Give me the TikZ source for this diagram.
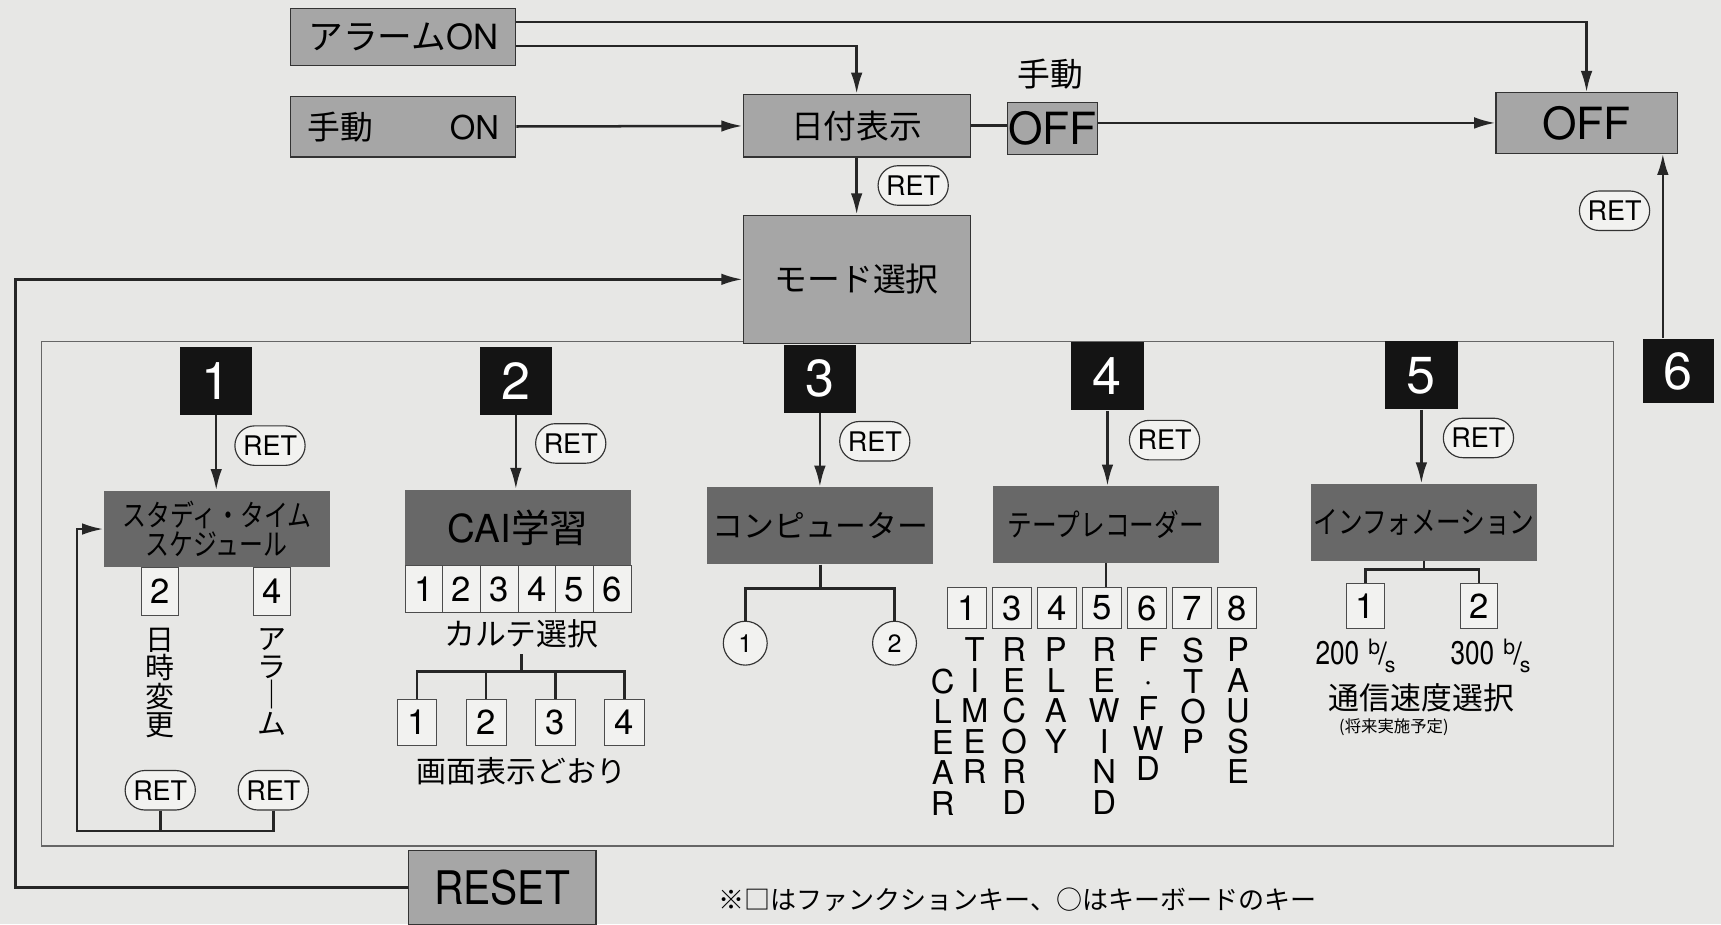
\documentclass[tikz,border=0pt]{standalone}
\usepackage{fontspec}
\setmainfont{TeX Gyre Heros}
\newfontfamily\jp{Noto Sans CJK JP}
\usetikzlibrary{arrows.meta,shapes.misc}
\definecolor{paper}{HTML}{E7E7E5}
\definecolor{lgray}{HTML}{A6A6A6}
\definecolor{dgray}{HTML}{686868}
\definecolor{keyfill}{HTML}{F2F2F0}
\newcommand{\cond}[1]{\scalebox{0.8}[1]{#1}}
\newcommand{\fs}[1]{\fontsize{#1}{#1}\selectfont}

\begin{document}
\begin{tikzpicture}[x=0.02cm,y=-0.02cm,
  box/.style={draw=black!80,line width=0.6pt,fill=lgray,inner sep=0pt},
  mbox/.style={fill=dgray,inner sep=0pt,minimum width=4.12cm,minimum height=1.4cm},
  numkey/.style={fill=black!92,text=white,inner sep=0pt,minimum width=1.32cm,minimum height=1.24cm,font=\fs{27}},
  fkey/.style={draw=black!70,line width=0.5pt,fill=keyfill,inner sep=0pt,minimum width=0.7cm,minimum height=0.84cm,font=\fs{18}},
  ret/.style={rounded rectangle,draw=black!80,line width=0.6pt,fill=keyfill,inner sep=0pt,minimum width=1.28cm,minimum height=0.72cm,font=\fs{14}},
  ckey/.style={circle,draw=black!80,line width=0.6pt,fill=keyfill,inner sep=0pt,minimum size=0.8cm,font=\fs{13}},
  vtext/.style={anchor=north,inner sep=0pt,align=center},
  line/.style={line width=1.3pt,black!85},
  arr/.style={line,-{Latex[length=11pt,width=6pt]}}
]
  \fill[paper] (0,0) rectangle (1568,842);
  \useasboundingbox (0,0) rectangle (1568,842);

  % frame of the mode keys
  \draw[black!60,line width=0.8pt] (38,311) rectangle (1470,771);

  % top row
  \node[box,minimum width=4.1cm,minimum height=1.04cm,font=\fs{18}] (alarmon) at (367.5,34) {{\jp アラーム}ON};
  \node[box,minimum width=4.1cm,minimum height=1.1cm,font=\fs{17}] (manualon) at (367.5,115.5) {{\jp 手動}\hspace{1.4cm}ON};
  \node[box,minimum width=4.14cm,minimum height=1.14cm,font=\jp\fs{17}] (datebox) at (780.5,114.5) {日付表示};
  \node[box,minimum width=1.64cm,minimum height=0.96cm,font=\fs{23}] (offsmall) at (959,117) {OFF};
  \node[font=\jp\fs{17}] (manlabel) at (957,68) {手動};
  \node[box,minimum width=3.3cm,minimum height=1.1cm,font=\fs{23}] (offbox) at (1445.5,112) {OFF};
  \node[box,minimum width=4.14cm,minimum height=2.34cm,font=\jp\fs{17}] (modebox) at (780.5,254.5) {モード選択};
  \node[box,minimum width=3.42cm,minimum height=1.34cm,font=\fs{24}] (resetbox) at (457.5,808.5) {\scalebox{0.88}[1]{RESET}};
  \node[font=\jp\fs{13.5},anchor=west] (note) at (648,820) {※□はファンクションキー、○はキーボードのキー};

  % number keys
  \node[numkey] (k1) at (197,347) {1};
  \node[numkey] (k2) at (470,347) {2};
  \node[numkey] (k3) at (747,345) {3};
  \node[numkey] (k4) at (1009,343) {4};
  \node[numkey] (k5) at (1295,342) {5};
  \node[numkey,minimum width=1.3cm,minimum height=1.18cm] (k6) at (1529,338) {6};

  % RET keys
  \node[ret] (ret0) at (832,169) {RET};
  \node[ret] (ret6) at (1471,192) {RET};
  \node[ret] (ret1) at (246,406) {RET};
  \node[ret] (ret2) at (520,404) {RET};
  \node[ret] (ret3) at (797,402) {RET};
  \node[ret] (ret4) at (1061,401) {RET};
  \node[ret] (ret5) at (1347,399) {RET};
  \node[ret] (retA) at (146,720) {RET};
  \node[ret] (retB) at (249,720) {RET};

  % modes
  \node[mbox,align=center,font=\jp\fontsize{15.5}{15.3}\selectfont] (study) at (197.5,482) {\cond{スタディ・タイム}\\\cond{スケジュール}};
  \node[mbox,font=\fs{20}] (cai) at (472,481) {CAI{\jp 学習}};
  \node[mbox,font=\jp\fs{16}] (comp) at (747.5,479) {コンピューター};
  \node[mbox,font=\jp\fs{16}] (tape) at (1007.5,478) {\cond{テープレコーダー}};
  \node[mbox,font=\jp\fs{16}] (info) at (1297.5,476) {\cond{インフォメーション}};

  % 1: study time schedule
  \node[fkey,anchor=north,minimum width=0.68cm,minimum height=0.86cm] (s2) at (146,517) {2};
  \node[fkey,anchor=north,minimum width=0.68cm,minimum height=0.86cm] (s4) at (248,517) {4};
  \node[vtext,font=\jp\fontsize{15}{14.7}\selectfont] (change) at (146,572) {日\\時\\変\\更};
  \node[vtext,font=\jp\fontsize{15}{14.7}\selectfont] (alarm) at (248,572) {ア\\ラ\\｜\\ム};

  % 2: CAI
  \foreach \i in {1,...,6}
    \node[fkey,anchor=north,minimum width=0.687cm,minimum height=0.86cm] (cc\i) at ({369+34.33*(\i-0.5)},515) {\i};
  \node[font=\jp\fs{16}] (karte) at (475,577) {カルテ選択};
  \node[fkey,minimum width=0.72cm] (ck1) at (380,658) {1};
  \node[fkey,minimum width=0.72cm] (ck2) at (443,658) {2};
  \node[fkey,minimum width=0.72cm] (ck3) at (506,658) {3};
  \node[fkey,minimum width=0.72cm] (ck4) at (569,658) {4};
  \node[font=\jp\fs{15.5}] (screen) at (475,703) {画面表示どおり};

  % 3: computer
  \node[ckey] (p1) at (679,586) {1};
  \node[ckey] (p2) at (815,586) {2};

  % 4: tape recorder
  \foreach \n [count=\i] in {1,3,4,5,6,7,8}
    \node[fkey,minimum width=0.72cm,minimum height=0.76cm] (t\n) at ({881+41*(\i-1)},554) {\n};
  \node[vtext,font=\fontsize{17}{15.8}\selectfont] (clear) at (859,609) {C\\L\\E\\A\\R};
  \node[vtext,font=\fontsize{17}{15.8}\selectfont] (timer) at (888,581) {T\\I\\M\\E\\R};
  \node[vtext,font=\fontsize{17}{15.8}\selectfont] (record) at (924,581) {R\\E\\C\\O\\R\\D};
  \node[vtext,font=\fontsize{17}{15.8}\selectfont] (play) at (962,581) {P\\L\\A\\Y};
  \node[vtext,font=\fontsize{17}{15.8}\selectfont] (rewind) at (1006,581) {R\\E\\W\\I\\N\\D};
  \node[vtext,font=\fontsize{17}{15.3}\selectfont] (ffwd) at (1046,581) {F\\·\\F\\W\\D};
  \node[vtext,font=\fontsize{17}{15.8}\selectfont] (stop) at (1087,581) {S\\T\\O\\P};
  \node[vtext,font=\fontsize{17}{15.8}\selectfont] (pause) at (1128,581) {P\\A\\U\\S\\E};

  % 5: information
  \node[fkey,minimum width=0.68cm,minimum height=0.82cm] (ik1) at (1244,552.5) {1};
  \node[fkey,minimum width=0.68cm,minimum height=0.82cm] (ik2) at (1347.5,552.5) {2};
  \node[font=\fs{17}] (b200) at (1235,598) {\cond{200} \raisebox{0.3em}{\fs{11}b}\kern-1pt{\fs{16}/}\kern-1pt\raisebox{-0.25em}{\fs{11}s}};
  \node[font=\fs{17}] (b300) at (1358,598) {\cond{300} \raisebox{0.3em}{\fs{11}b}\kern-1pt{\fs{16}/}\kern-1pt\raisebox{-0.25em}{\fs{11}s}};
  \node[font=\jp\fs{16}] (speed) at (1295,636) {通信速度選択};
  \node[font=\jp\fs{8.5}] (future) at (1270,663) {(将来実施予定)};

  % connectors
  \coordinate (loopc) at (14,254.5);
  \coordinate (sloop) at (70,757);
  \coordinate (cj) at (475,612);
  \coordinate (pj) at (747.5,536);
  \coordinate (ij) at (1297.5,519);

  \draw[arr] ([yshift=0.28cm]alarmon.east) -| (offbox.north);
  \draw[arr] ([yshift=-0.16cm]alarmon.east) -| (datebox.north);
  \draw[arr] (manualon) -- (datebox);
  \draw[line] (datebox.east) -- (offsmall.west |- datebox.east);
  \draw[arr] (offsmall.east |- offbox.west) -- (offbox.west);
  \draw[arr] (datebox) -- (modebox);
  \draw[arr] ([xshift=-0.28cm]k6.north) -- ([xshift=-0.28cm]k6.north |- offbox.south);
  \draw[arr] (resetbox.west) -| (loopc) -- (modebox.west);

  \foreach \k/\m in {k1/study,k2/cai,k3/comp,k4/tape,k5/info}
    \draw[arr] (\k.south) -- (\k.south |- \m.north);

  \draw[line] (retA.south) -- (retA.south |- sloop);
  \draw[arr] (retB.south) |- (sloop) |- (study.west);

  \draw[line] (karte.south) -- (cj);
  \draw[line] (ck1.north) |- (cj) -| (ck4.north);
  \draw[line] (ck2.north) -- (ck2.north |- cj);
  \draw[line] (ck3.north) -- (ck3.north |- cj);

  \draw[line] (comp.south) -- (pj);
  \draw[line] (p1.north) |- (pj) -| (p2.north);

  \draw[line] (tape.south) -- (tape.south |- t5.north);

  \draw[line] (info.south) -- (ij);
  \draw[line] (ik1.north) |- (ij) -| (ik2.north);
\end{tikzpicture}
\end{document}
